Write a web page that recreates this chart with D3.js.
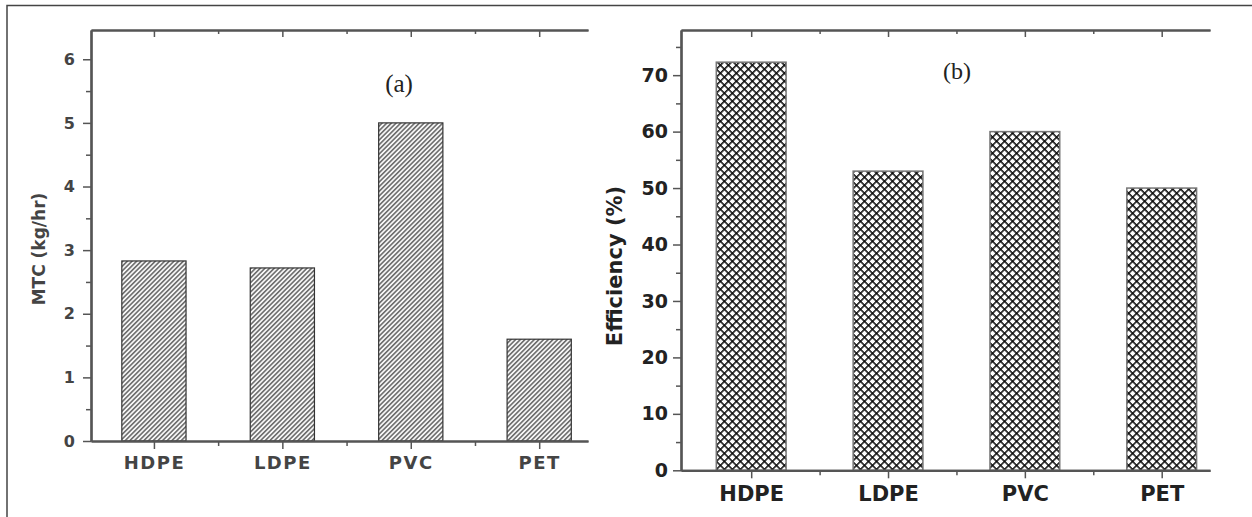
<!DOCTYPE html>
<html>
<head>
<meta charset="utf-8">
<script src="https://cdn.jsdelivr.net/npm/d3@7"></script>
<style>
  html, body { margin: 0; padding: 0; background: #fff; }
  svg { display: block; }
</style>
</head>
<body>
<svg id="chart" width="1252" height="517"></svg>
<script>
const categories = ["HDPE", "LDPE", "PVC", "PET"];
const mtcValues = [2.83, 2.72, 5.0, 1.6];
const efficiencyValues = [72.3, 53, 60, 50];
const mtcTicks = [0, 1, 2, 3, 4, 5, 6];
const mtcMinorTicks = [0.5, 1.5, 2.5, 3.5, 4.5, 5.5];
const effTicks = [0, 10, 20, 30, 40, 50, 60, 70];
const effMinorTicks = [5, 15, 25, 35, 45, 55, 65, 75];
const catPositions = [1, 2, 3, 4];
const catMinor = [1.5, 2.5, 3.5];

const svg = d3.select("#chart");
const defs = svg.append("defs");

// diagonal hatch for panel (a)
const hatch = defs.append("pattern")
  .attr("id", "hatchA").attr("patternUnits", "userSpaceOnUse")
  .attr("width", 3.3).attr("height", 3.3)
  .attr("patternTransform", "rotate(45)");
hatch.append("rect").attr("width", 3.3).attr("height", 3.3).attr("fill", "#f6f6f6");
hatch.append("line").attr("x1", 0.8).attr("y1", 0).attr("x2", 0.8).attr("y2", 3.3)
  .attr("stroke", "#404040").attr("stroke-width", 1.2);

// crosshatch for panel (b)
const cross = defs.append("pattern")
  .attr("id", "crossB").attr("patternUnits", "userSpaceOnUse")
  .attr("width", 5.66).attr("height", 5.66)
  .attr("patternTransform", "rotate(45)");
cross.append("rect").attr("width", 5.66).attr("height", 5.66).attr("fill", "#fff");
cross.append("line").attr("x1", 0).attr("y1", 0).attr("x2", 0).attr("y2", 5.66)
  .attr("stroke", "#0a0a0a").attr("stroke-width", 3.1);
cross.append("line").attr("x1", 0).attr("y1", 0).attr("x2", 5.66).attr("y2", 0)
  .attr("stroke", "#0a0a0a").attr("stroke-width", 3.1);

// outer frame (top and left)
svg.append("path").attr("d", "M7,517 L7,5.5 L1252,5.5")
  .attr("fill", "none").attr("stroke", "#444").attr("stroke-width", 1.5);

function panel(cfg) {
  const g = svg.append("g");
  const x = d3.scaleLinear().domain(cfg.xDomain).range([cfg.left, cfg.right]);
  const y = d3.scaleLinear().domain(cfg.yDomain).range([cfg.bottom, cfg.top]);

  // bars
  g.selectAll("rect.bar").data(cfg.values).enter().append("rect")
    .attr("class", "bar")
    .attr("x", (d, i) => x(catPositions[i] - cfg.barW / 2))
    .attr("width", (d, i) => x(catPositions[i] + cfg.barW / 2) - x(catPositions[i] - cfg.barW / 2))
    .attr("y", d => y(d))
    .attr("height", d => y(0) - y(d))
    .attr("fill", `url(#${cfg.pattern})`)
    .attr("stroke", cfg.barStroke).attr("stroke-width", cfg.barStrokeW);

  const axisColor = cfg.axisColor;
  function style(sel) {
    sel.select(".domain").attr("stroke", axisColor).attr("stroke-width", 2.2);
    sel.selectAll(".tick line").attr("stroke", axisColor).attr("stroke-width", 1.5);
    sel.selectAll(".tick text").attr("fill", cfg.textColor)
      .attr("font-family", "DejaVu Sans").attr("font-weight", "bold");
  }

  // left axis minor
  g.append("g").attr("transform", `translate(${cfg.left},0)`)
    .call(d3.axisLeft(y).tickValues(cfg.minorY).tickSize(5).tickFormat("").tickSizeOuter(0))
    .call(style);
  // left axis major
  const la = g.append("g").attr("transform", `translate(${cfg.left},0)`)
    .call(d3.axisLeft(y).tickValues(cfg.majorY).tickSize(8).tickPadding(cfg.yPad)
      .tickFormat(d3.format("~g")).tickSizeOuter(0))
    .call(style);
  la.selectAll(".tick text").attr("font-size", cfg.yFont);

  // top axis (ticks inward)
  g.append("g").attr("transform", `translate(0,${cfg.top})`)
    .call(d3.axisTop(x).tickValues(catMinor).tickSize(-4).tickFormat("").tickSizeOuter(0))
    .call(style);
  g.append("g").attr("transform", `translate(0,${cfg.top})`)
    .call(d3.axisTop(x).tickValues(catPositions).tickSize(-7).tickFormat("").tickSizeOuter(0))
    .call(style);

  // bottom axis
  g.append("g").attr("transform", `translate(0,${cfg.bottom})`)
    .call(d3.axisBottom(x).tickValues(catMinor).tickSize(5).tickFormat("").tickSizeOuter(0))
    .call(style);
  const ba = g.append("g").attr("transform", `translate(0,${cfg.bottom})`)
    .call(d3.axisBottom(x).tickValues(catPositions).tickSize(8).tickPadding(cfg.xPad)
      .tickFormat((d, i) => categories[i]).tickSizeOuter(0))
    .call(style);
  ba.selectAll(".tick text").attr("font-size", cfg.xFont)
    .attr("letter-spacing", cfg.xSpacing);

  // y label
  g.append("text")
    .attr("transform", `translate(${cfg.yLabelX},${cfg.yLabelY}) rotate(-90)`)
    .attr("text-anchor", "middle")
    .attr("font-family", "DejaVu Sans").attr("font-weight", "bold")
    .attr("font-size", cfg.yLabelFont).attr("fill", cfg.textColor)
    .text(cfg.yLabel);

  // panel tag
  g.append("text")
    .attr("x", cfg.tagX).attr("y", cfg.tagY)
    .attr("text-anchor", "middle")
    .attr("font-family", "Liberation Serif").attr("font-size", cfg.tagFont)
    .attr("fill", "#222")
    .text(cfg.tag);
}

panel({
  values: mtcValues, xDomain: [0.51, 4.38], yDomain: [0, 6.46],
  left: 91, right: 588, top: 30, bottom: 441, barW: 0.5,
  pattern: "hatchA", barStroke: "#333", barStrokeW: 1.2,
  axisColor: "#555", textColor: "#444",
  majorY: mtcTicks, minorY: mtcMinorTicks, yPad: 8, yFont: 16,
  xPad: 7, xFont: 18, xSpacing: 1.5,
  yLabel: "MTC (kg/hr)", yLabelX: 45, yLabelY: 249, yLabelFont: 17,
  tag: "(a)", tagX: 399, tagY: 92, tagFont: 25
});

panel({
  values: efficiencyValues, xDomain: [0.487, 4.353], yDomain: [0, 78],
  left: 681, right: 1210, top: 30, bottom: 470.3, barW: 0.51,
  pattern: "crossB", barStroke: "#777", barStrokeW: 1.5,
  axisColor: "#555", textColor: "#222",
  majorY: effTicks, minorY: effMinorTicks, yPad: 5, yFont: 19,
  xPad: 8, xFont: 21, xSpacing: 0,
  yLabel: "Efficiency (%)", yLabelX: 622, yLabelY: 266, yLabelFont: 21,
  tag: "(b)", tagX: 957, tagY: 79, tagFont: 24
});
</script>
</body>
</html>
